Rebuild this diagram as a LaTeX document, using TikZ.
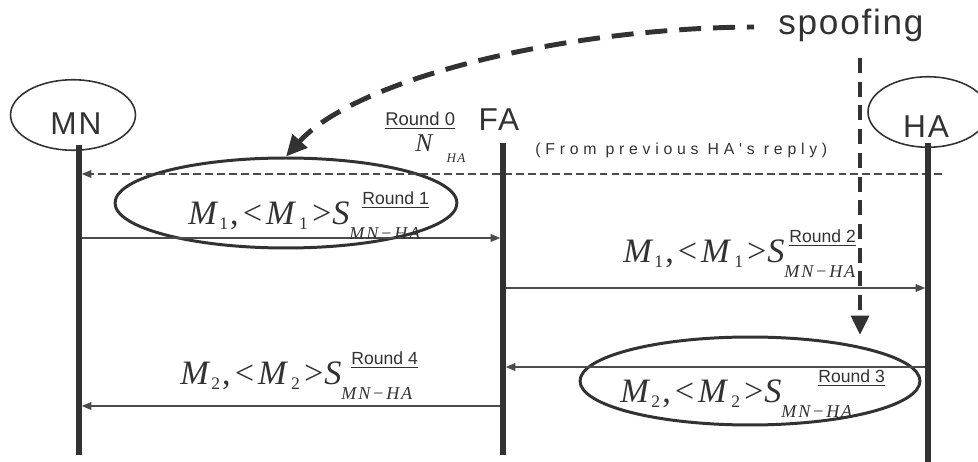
\documentclass[tikz,border=0pt]{standalone}
\usepackage{fontspec}
\setmainfont{Liberation Serif}
\setsansfont{Liberation Sans}
\newfontfamily\lblfont[LetterSpace=6]{Liberation Sans}
\newfontfamily\notefont[LetterSpace=30]{Liberation Sans}
\newfontfamily\idxfont[LetterSpace=10]{Liberation Serif}
\usetikzlibrary{positioning, arrows.meta, shapes.geometric}
\definecolor{inkgray}{RGB}{50, 50, 50}
\definecolor{linegray}{RGB}{75, 75, 75}

\newlength{\px}\setlength{\px}{0.02cm}

% M_i, <M_i> S with round label on top and MN-HA below
\newcommand{\signedmsg}[3]{%
    \fontsize{19.5}{22}\selectfont
    \textit{M}\hspace{1\px}\raisebox{-5\px}{\fontsize{10}{11}\selectfont #1}\hspace{2\px},%
    \hspace{4\px}<\hspace{4\px}\textit{M}\hspace{3\px}\raisebox{-5\px}{\fontsize{10}{11}\selectfont #1}%
    \hspace{4\px}>\hspace{1\px}\textit{S}%
    \rlap{\hspace{#3\px}\raisebox{20\px}{\sffamily\fontsize{10}{12}\selectfont\underline{Round #2}}}%
    \raisebox{-15\px}{\idxfont\itshape\fontsize{10.3}{12}\selectfont MN−HA}}

\begin{document}
\begin{tikzpicture}[x=0.02cm, y=-0.02cm, color=inkgray,
        actor/.style={draw=inkgray, line width=0.9pt, ellipse,
            minimum width=2.5cm, minimum height=1.41cm, inner sep=0pt},
        actorlbl/.style={font=\lblfont\fontsize{18}{20}\selectfont, inner sep=0pt},
        lifeline/.style={draw=inkgray, line width=3.4pt},
        msg/.style={draw=linegray, line width=0.7pt,
            -{Triangle[length=5.5pt, width=4.5pt]}, shorten >=1.6pt},
        reply/.style={msg, dash pattern=on 4.5pt off 2.3pt, line width=0.6pt},
        msgtext/.style={anchor=base west, inner sep=0pt},
        hilite/.style={draw=inkgray, line width=1.7pt, ellipse, inner sep=0pt},
        spoofarrow/.style={draw=inkgray, line width=2.8pt,
            dash pattern=on 12.5pt off 6.8pt,
            -{Triangle[length=12pt, width=11pt]}}
    ]
    \useasboundingbox (0,0) rectangle (978,462);

    % actors
    \node[actor] (MN) at (73,115) {};
    \node[actorlbl] (MNlbl) at (76,124) {MN};
    \node[actorlbl] (FA) at (499,120) {FA};
    \node[actor, minimum width=2.4cm] (HA) at (928,112) {};
    \node[actorlbl] (HAlbl) at (926,127) {HA};

    \coordinate (mnTop) at (79,145);  \coordinate (mnBot) at (79,455);
    \coordinate (faTop) at (503,143); \coordinate (faBot) at (503,455);
    \coordinate (haTop) at (928,143); \coordinate (haBot) at (928,462);

    % message levels
    \coordinate (r0) at (942,174);
    \coordinate (r1) at (0,238);
    \coordinate (r2) at (0,288);
    \coordinate (r3) at (0,367);
    \coordinate (r4) at (0,406);

    % highlighted messages
    \node[hilite, minimum width=6.84cm, minimum height=1.8cm] (e1) at (286,203) {};
    \node[hilite, minimum width=6.8cm, minimum height=1.76cm] (e3) at (750,381) {};

    % round 0
    \node[msgtext, font=\sffamily\fontsize{10.5}{12}\selectfont] (rnd0) at (385,126) {\underline{Round 0}};
    \node[msgtext, font=\fontsize{14.6}{16}\selectfont] (nha) at (415,152)
        {\textit{N}\hspace{13\px}\raisebox{-11\px}{\idxfont\itshape\fontsize{7.5}{8}\selectfont HA}};
    \node[msgtext, font=\notefont\fontsize{9}{10}\selectfont] (note) at (535,155)
        {(From previous HA's reply)};

    \draw[reply] (r0) -- (mnTop |- r0);
    \draw[msg] (mnTop |- r1) -- (faTop |- r1);
    \draw[msg] (faTop |- r2) -- (haTop |- r2);
    \draw[msg] (haTop |- r3) -- (faTop |- r3);
    \draw[msg] (faTop |- r4) -- (mnTop |- r4);

    \node[msgtext] (m1) at (188,225) {\signedmsg{1}{1}{13}};
    \node[msgtext] (m2) at (623,263) {\signedmsg{1}{2}{5}};
    \node[msgtext] (m3) at (620,403) {\signedmsg{2}{3}{37}};
    \node[msgtext] (m4) at (180,385) {\signedmsg{2}{4}{10}};

    % lifelines
    \draw[lifeline] (mnTop) -- (mnBot);
    \draw[lifeline] (faTop) -- (faBot);
    \draw[lifeline] (haTop) -- (haBot);

    % spoofing attack
    \node[msgtext, font=\sffamily\addfontfeatures{LetterSpace=5}\fontsize{20}{22}\selectfont]
        (spoof) at (778,35) {spoofing};
    \coordinate (curveStart) at (754,27);
    \coordinate (spoofTop) at (860,58);
    \coordinate (spoofTip) at (860,335);
    \draw[spoofarrow, dash phase=8.5pt] (curveStart) .. controls (560,28) and (355,80) .. (e1.north);
    \draw[spoofarrow, line width=2.3pt, dash pattern=on 8.5pt off 5pt,
        -{Triangle[length=11pt, width=10pt]}] (spoofTop) -- (spoofTip);
\end{tikzpicture}
\end{document}
